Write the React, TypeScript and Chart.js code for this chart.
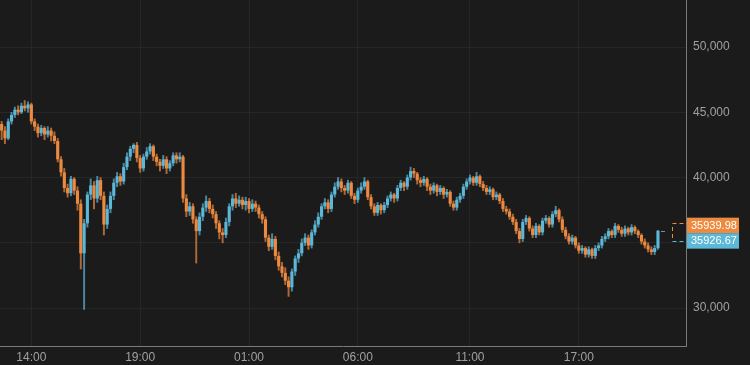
import React, { useEffect, useRef } from "react";
import { Chart, registerables } from "chart.js";

Chart.register(...registerables);

const OPEN = [
  44100, 43600, 43000, 44300, 44800, 45200, 45000, 45500, 45300, 45600,
  44300, 43900, 43400, 43800, 43300, 43600, 43200, 42800, 41400, 40400,
  39200, 38800, 39900, 39000, 38000, 34200, 36500, 38700, 39400, 38400,
  39800, 38600, 36400, 37600, 38600, 39600, 40100, 39700, 40800, 41600,
  42200, 42500, 41500, 40700, 41600, 42000, 42400, 41600, 41200, 40900,
  41400, 40700, 41100, 41700, 41400, 41600, 38400, 37400, 37800, 36800,
  35900, 37000, 37700, 38200, 37600, 37200, 36500, 35800, 35600, 36600,
  37800, 38400, 38000, 38300, 37900, 38200, 37600, 38000, 37700, 37200,
  36800, 35400, 34700, 35300, 34000, 33200, 32700, 32100, 31600, 32800,
  33800, 34200, 35000, 35400, 34800, 35800, 36400, 37000, 37800, 38100,
  37600, 38700, 39300, 39700, 39200, 39000, 39600, 38600, 38300, 39000,
  39300, 39700, 38500, 37800, 37300, 37900, 37500, 37900, 38400, 38700,
  38400, 39200, 39600, 39300, 40000, 40500, 40300, 39800, 39600, 39900,
  39300, 39000, 39400, 38900, 39200, 38700, 38900, 38000, 37700, 38300,
  38600, 39300, 39700, 40000, 39600, 40100, 39500, 39200, 38900, 39100,
  38500, 38700, 38200, 37600, 37400, 37000, 36600, 35900, 35300, 36600,
  36900, 36100, 35600, 36300, 35800, 36700, 36900, 36400, 37200, 37500,
  36800, 36000, 35500, 35100, 35400, 34800, 34400, 34600, 34100, 34500,
  34000, 34600, 34800, 35300, 35500, 35900, 35600, 36300, 36000, 35700,
  36100, 35800, 36200, 35900, 35600, 35100, 34800, 34500, 34300, 34600,
];
const HIGH = [
  44300, 43900, 44500, 45000, 45400, 45500, 45700, 45900, 45800, 45700,
  44500, 44100, 44000, 43900, 43900, 43800, 43500, 43000, 41600, 40700,
  39500, 40100, 40000, 39300, 38300, 36800, 38900, 39900, 39700, 40100,
  40000, 38900, 37900, 38900, 39900, 40400, 40300, 41100, 41900, 42400,
  42600, 42700, 41700, 41800, 42300, 42600, 42500, 41800, 41400, 41700,
  41600, 41300, 41900, 41900, 41900, 41700, 38700, 38100, 38000, 37000,
  37300, 38000, 38600, 38400, 37900, 37400, 36700, 36100, 36900, 38000,
  38700, 38800, 38600, 38500, 38500, 38400, 38300, 38200, 37900, 37400,
  37000, 35600, 35700, 35500, 34300, 33500, 33100, 32400, 33000, 34000,
  34500, 35300, 35700, 35600, 36000, 36700, 37300, 38000, 38400, 38300,
  38900, 39600, 40000, 39900, 39400, 39800, 39700, 38800, 39200, 39600,
  40000, 39800, 38700, 38000, 38100, 38000, 38100, 38600, 38900, 38800,
  39400, 39800, 39700, 40200, 40800, 40700, 40400, 40000, 40100, 40000,
  39500, 39600, 39500, 39400, 39300, 39100, 39000, 38200, 38500, 38800,
  39500, 39900, 40200, 40100, 40400, 40200, 39700, 39400, 39300, 39200,
  38900, 38800, 38400, 37800, 37600, 37200, 36800, 36100, 36800, 37100,
  37000, 36300, 36500, 36400, 36900, 37100, 37000, 37400, 37800, 37600,
  37000, 36200, 35700, 35600, 35500, 35000, 34800, 34700, 34700, 34600,
  34800, 35000, 35500, 35700, 36100, 36000, 36500, 36400, 36200, 36300,
  36200, 36400, 36300, 36000, 35700, 35300, 35000, 34700, 34800, 35950,
];
const LOW = [
  42900, 42600, 42900, 44100, 44600, 44800, 44900, 45100, 45000, 44100,
  43600, 43100, 43200, 42900, 43100, 42800, 42600, 41200, 40100, 38900,
  38500, 38600, 38700, 37500, 33000, 29900, 36200, 38300, 37600, 38100,
  38300, 35600, 36100, 37300, 38300, 39300, 39400, 39500, 40600, 41300,
  41900, 41200, 40400, 40500, 41400, 41800, 41300, 40900, 40500, 40700,
  40300, 40500, 40900, 41100, 41200, 38100, 37000, 37100, 36500, 33450,
  35600, 36700, 37400, 37300, 36900, 36100, 35300, 35000, 35400, 36300,
  37500, 37700, 37800, 37600, 37500, 37300, 37400, 37400, 36900, 36500,
  35100, 34400, 34500, 33700, 32900, 32400, 31800, 30900, 31300, 32500,
  33500, 34000, 34800, 34500, 34600, 35600, 36200, 36800, 37600, 37300,
  37400, 38500, 39100, 38900, 38700, 38800, 38400, 38000, 38100, 38800,
  39100, 38300, 37600, 37100, 37100, 37200, 37300, 37700, 38200, 38100,
  38200, 39000, 39000, 39100, 39800, 40000, 39500, 39300, 39400, 39000,
  38700, 38800, 38600, 38700, 38400, 38500, 37800, 37500, 37500, 38100,
  38400, 39100, 39500, 39400, 39400, 39300, 39000, 38700, 38700, 38300,
  38300, 38000, 37400, 37200, 36800, 36400, 35700, 35000, 35100, 36400,
  35900, 35400, 35400, 35600, 35600, 36500, 36200, 36200, 37000, 36600,
  35800, 35300, 34900, 34900, 34600, 34200, 34200, 33900, 33900, 33800,
  33800, 34400, 34600, 35100, 35300, 35400, 35400, 35800, 35500, 35500,
  35600, 35600, 35700, 35400, 34900, 34600, 34300, 34100, 34100, 34500,
];
const CLOSE = [
  43600, 43000, 44300, 44800, 45200, 45000, 45500, 45300, 45600, 44300,
  43900, 43400, 43800, 43300, 43600, 43200, 42800, 41400, 40400, 39200,
  38800, 39900, 39000, 38000, 34200, 36500, 38700, 39400, 38400, 39800,
  38600, 36400, 37600, 38600, 39600, 40100, 39700, 40800, 41600, 42200,
  42500, 41500, 40700, 41600, 42000, 42400, 41600, 41200, 40900, 41400,
  40700, 41100, 41700, 41400, 41600, 38400, 37400, 37800, 36800, 35900,
  37000, 37700, 38200, 37600, 37200, 36500, 35800, 35600, 36600, 37800,
  38400, 38000, 38300, 37900, 38200, 37600, 38000, 37700, 37200, 36800,
  35400, 34700, 35300, 34000, 33200, 32700, 32100, 31600, 32800, 33800,
  34200, 35000, 35400, 34800, 35800, 36400, 37000, 37800, 38100, 37600,
  38700, 39300, 39700, 39200, 39000, 39600, 38600, 38300, 39000, 39300,
  39700, 38500, 37800, 37300, 37900, 37500, 37900, 38400, 38700, 38400,
  39200, 39600, 39300, 40000, 40500, 40300, 39800, 39600, 39900, 39300,
  39000, 39400, 38900, 39200, 38700, 38900, 38000, 37700, 38300, 38600,
  39300, 39700, 40000, 39600, 40100, 39500, 39200, 38900, 39100, 38500,
  38700, 38200, 37600, 37400, 37000, 36600, 35900, 35300, 36600, 36900,
  36100, 35600, 36300, 35800, 36700, 36900, 36400, 37200, 37500, 36800,
  36000, 35500, 35100, 35400, 34800, 34400, 34600, 34100, 34500, 34000,
  34600, 34800, 35300, 35500, 35900, 35600, 36300, 36000, 35700, 36100,
  35800, 36200, 35900, 35600, 35100, 34800, 34500, 34300, 34600, 35926.67,
];

const EMPTY_SLOTS = 8;
const TICK_INDEX = [9, 42, 75, 108, 142, 175];
const TICK_TEXT = ["14:00", "19:00", "01:00", "06:00", "11:00", "17:00"];
const Y_TICKS = [30000, 35000, 40000, 45000, 50000];
const ASK_PRICE = 35939.98;
const LAST_PRICE = 35926.67;

const ORANGE = "#ee8a40";
const BLUE = "#5db7d7";
const ORANGE_WICK = "rgba(238,138,64,0.7)";
const BLUE_WICK = "rgba(93,183,215,0.7)";
const BG = "#1b1b1b";
const GRID = "#262626";
const BORDER = "#7a7a7a";
const FONT = "'Liberation Sans', Arial, sans-serif";

export default function App() {
  const ref = useRef<HTMLCanvasElement | null>(null);

  useEffect(() => {
    if (!ref.current) return;
    const n = CLOSE.length;
    const labels = Array.from({ length: n + EMPTY_SLOTS }, (_, i) => String(i));
    const up = (i: number) => CLOSE[i] >= OPEN[i];

    const bgPlugin = {
      id: "bg",
      beforeDraw(chart: any) {
        const c = chart.ctx;
        c.save();
        c.fillStyle = BG;
        c.fillRect(0, 0, chart.width, chart.height);
        c.restore();
      },
    };

    const pricePlugin = {
      id: "prices",
      afterDraw(chart: any) {
        const c = chart.ctx;
        const y = chart.scales.y;
        const area = chart.chartArea;
        const mid = (y.getPixelForValue(ASK_PRICE) + y.getPixelForValue(LAST_PRICE)) / 2 + 2.5;
        const h = 15.5;
        const yO = mid - h / 2;
        const yB = mid + h / 2;
        const xl = area.right + 1;
        const w = 52;
        const lastX = chart.getDatasetMeta(1).data[n - 1].x;
        const yLast = Math.round(y.getPixelForValue(LAST_PRICE)) + 0.5;
        c.save();
        c.lineWidth = 1;
        c.setLineDash([4, 3]);
        c.strokeStyle = "#8a8a8a";
        c.beginPath();
        c.moveTo(lastX + 3, yLast);
        c.lineTo(lastX + 9, yLast);
        c.stroke();
        c.strokeStyle = ORANGE;
        c.beginPath();
        c.moveTo(672.5, Math.round(yO) - 1.5);
        c.lineTo(xl, Math.round(yO) - 1.5);
        c.moveTo(672.5, Math.round(yO) + 2);
        c.lineTo(672.5, Math.round(yB) - 2);
        c.stroke();
        c.strokeStyle = BLUE;
        c.beginPath();
        c.moveTo(672.5, Math.round(yB) + 0.5);
        c.lineTo(xl, Math.round(yB) + 0.5);
        c.stroke();
        c.setLineDash([]);
        c.fillStyle = ORANGE;
        c.fillRect(xl, yO - h / 2, w, h);
        c.fillStyle = BLUE;
        c.fillRect(xl, yB - h / 2, w, h);
        c.fillStyle = "#ffffff";
        c.font = `11px ${FONT}`;
        c.textBaseline = "middle";
        c.textAlign = "left";
        c.fillText(ASK_PRICE.toFixed(2), xl + 4, yO + 0.5);
        c.fillText(LAST_PRICE.toFixed(2), xl + 4, yB + 0.5);
        c.restore();
      },
    };

    const chart = new Chart(ref.current, {
      type: "bar",
      data: {
        labels,
        datasets: [
          {
            label: "wick",
            data: CLOSE.map((_, i) => [LOW[i], HIGH[i]]) as any,
            backgroundColor: CLOSE.map((_, i) => (up(i) ? BLUE_WICK : ORANGE_WICK)),
            barThickness: 1.3,
            grouped: false,
            order: 2,
          },
          {
            label: "body",
            data: CLOSE.map((c, i) => [OPEN[i], c]) as any,
            backgroundColor: CLOSE.map((_, i) => (up(i) ? BLUE : ORANGE)),
            categoryPercentage: 1,
            barPercentage: 0.95,
            grouped: false,
            order: 1,
          },
        ],
      },
      options: {
        responsive: false,
        animation: false,
        devicePixelRatio: 1,
        layout: { padding: 0 },
        plugins: { legend: { display: false }, tooltip: { enabled: false }, title: { display: false } },
        scales: {
          x: {
            type: "category",
            offset: true,
            grid: {
              offset: false,
              drawTicks: false,
              color: (ctx: any) => (TICK_INDEX.includes(ctx.index) ? GRID : "transparent"),
            },
            border: { display: true, color: BORDER, width: 1 },
            ticks: {
              autoSkip: false,
              maxRotation: 0,
              padding: 4,
              color: "#a0a0a0",
              font: { family: FONT, size: 12 },
              callback: (_v: any, i: number) => {
                const k = TICK_INDEX.indexOf(i);
                return k >= 0 ? TICK_TEXT[k] : "";
              },
            },
            afterFit: (s: any) => {
              s.height = 19;
              s.paddingLeft = 0;
              s.paddingRight = 0;
            },
          },
          y: {
            type: "linear",
            position: "right",
            min: 27100,
            max: 53600,
            afterBuildTicks: (s: any) => {
              s.ticks = Y_TICKS.map((v) => ({ value: v }));
            },
            grid: { color: GRID, drawTicks: false },
            border: { display: true, color: BORDER, width: 1 },
            ticks: {
              padding: 7,
              color: "#a0a0a0",
              font: { family: FONT, size: 12 },
              callback: (v: any) => Number(v).toLocaleString("en-US"),
            },
            afterFit: (s: any) => {
              s.width = 64;
              s.paddingTop = 0;
              s.paddingBottom = 0;
            },
          },
        },
      },
      plugins: [bgPlugin, pricePlugin],
    });
    return () => chart.destroy();
  }, []);

  return (
    <div style={{ position: "fixed", left: 0, top: 0, width: 750, height: 365, background: BG }}>
      <canvas ref={ref} width={750} height={365} style={{ display: "block" }} />
    </div>
  );
}
